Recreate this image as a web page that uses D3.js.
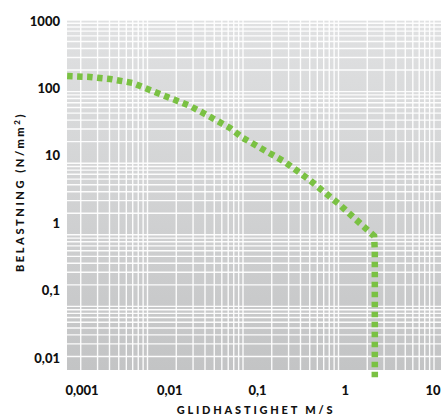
<!DOCTYPE html>
<html>
<head>
<meta charset="utf-8">
<script src="https://cdn.jsdelivr.net/npm/d3@7"></script>
<style>
  body { margin: 0; background: #fff; }
  svg { display: block; }
  .tick-label { font-family: Lato, "Open Sans", sans-serif; font-weight: 900; font-size: 13px; fill: #111; }
  .title { font-family: Lato, "Open Sans", sans-serif; font-weight: 900; font-size: 11px; fill: #111; }
</style>
</head>
<body>
<div id="chart"></div>
<script>
// speed (m/s) and load (N/mm2)
var speed = [0.00144, 0.0025, 0.00405, 0.0070, 0.0106, 0.0172, 0.0279, 0.042, 0.073, 0.10, 0.275, 0.50, 1.04, 1.85, 2.36, 2.40, 2.40];
var load  = [165, 160, 150, 132, 105, 81.5, 63, 47, 31, 22.5, 10.4, 5.8, 2.6, 1.29, 0.96, 0.6, 0.0097];

var xTicks = [0.001, 0.01, 0.1, 1, 10];
var xTickLabels = ["0,001", "0,01", "0,1", "1", "10"];
var yTicks = [1000, 100, 10, 1, 0.1, 0.01];
var yTickLabels = ["1000", "100", "10", "1", "0,1", "0,01"];

var W = 443, H = 419;
var plot = {left: 67, right: 441, top: 20, bottom: 370};

// scales for the grid / curve
var x = d3.scaleLog().domain([0.001, 10]).range([52, 434]);
var y = d3.scaleLog().domain([0.01, 1000]).range([378, 20]);
// tick labels sit a bit off the decade lines in the original
var xLab = d3.scaleLog().domain([0.001, 10]).range([82, 433]);
var yLab = d3.scaleLog().domain([0.01, 1000]).range([358, 21]);

var svg = d3.select("#chart").append("svg")
  .attr("width", W).attr("height", H);

var defs = svg.append("defs");
var grad = defs.append("linearGradient").attr("id", "bg")
  .attr("x1", 0).attr("y1", 0).attr("x2", 0).attr("y2", 1);
grad.append("stop").attr("offset", "0%").attr("stop-color", "#e0e1e2");
grad.append("stop").attr("offset", "100%").attr("stop-color", "#c3c4c5");
defs.append("clipPath").attr("id", "clip").append("rect")
  .attr("x", plot.left).attr("y", plot.top)
  .attr("width", plot.right - plot.left).attr("height", plot.bottom - plot.top);

svg.append("rect")
  .attr("x", plot.left).attr("y", plot.top)
  .attr("width", plot.right - plot.left).attr("height", plot.bottom - plot.top)
  .attr("fill", "url(#bg)");

// grid
var grid = svg.append("g").attr("clip-path", "url(#clip)");
var xGrid = d3.scaleLog().domain([0.001, 20]).ticks();
var yGrid = d3.scaleLog().domain([0.01, 1000]).ticks();

grid.selectAll(".vgrid").data(xGrid).enter().append("line")
  .attr("class", "vgrid")
  .attr("x1", function(d) { return x(d); })
  .attr("x2", function(d) { return x(d); })
  .attr("y1", plot.top).attr("y2", plot.bottom)
  .attr("stroke", "#fff").attr("stroke-width", 1.4).attr("opacity", 0.95);

grid.selectAll(".hgrid").data(yGrid).enter().append("line")
  .attr("class", "hgrid")
  .attr("y1", function(d) { return y(d); })
  .attr("y2", function(d) { return y(d); })
  .attr("x1", plot.left).attr("x2", plot.right)
  .attr("stroke", "#fff").attr("stroke-width", 1.4).attr("opacity", 0.95);

// the curve
var pts = speed.map(function(s, i) { return {s: s, l: load[i]}; });
var line = d3.line()
  .x(function(d) { return x(d.s); })
  .y(function(d) { return y(d.l); });

svg.append("path")
  .datum(pts)
  .attr("d", line)
  .attr("fill", "none")
  .attr("stroke", "#7ac143")
  .attr("stroke-width", 6.5)
  .attr("stroke-dasharray", "5.5,4.5");

// tick labels
svg.selectAll(".xl").data(xTicks).enter().append("text")
  .attr("class", "tick-label")
  .attr("x", function(d) { return xLab(d); })
  .attr("y", 395)
  .attr("text-anchor", "middle")
  .text(function(d, i) { return xTickLabels[i]; });

svg.selectAll(".yl").data(yTicks).enter().append("text")
  .attr("class", "tick-label")
  .attr("x", 60)
  .attr("y", function(d) { return yLab(d); })
  .attr("dy", "0.35em")
  .attr("text-anchor", "end")
  .text(function(d, i) { return yTickLabels[i]; });

// titles
svg.append("text")
  .attr("class", "title")
  .attr("x", 256).attr("y", 414)
  .attr("text-anchor", "middle")
  .attr("letter-spacing", "2.8px")
  .text("GLIDHASTIGHET M/S");

var yt = svg.append("text")
  .attr("class", "title")
  .attr("transform", "translate(24,192) rotate(-90)")
  .attr("text-anchor", "middle")
  .attr("letter-spacing", "2.6px");
yt.append("tspan").text("BELASTNING (N/mm");
yt.append("tspan").attr("dy", -4).attr("font-size", "8px").text("2");
yt.append("tspan").attr("dy", 4).text(")");
</script>
</body>
</html>
